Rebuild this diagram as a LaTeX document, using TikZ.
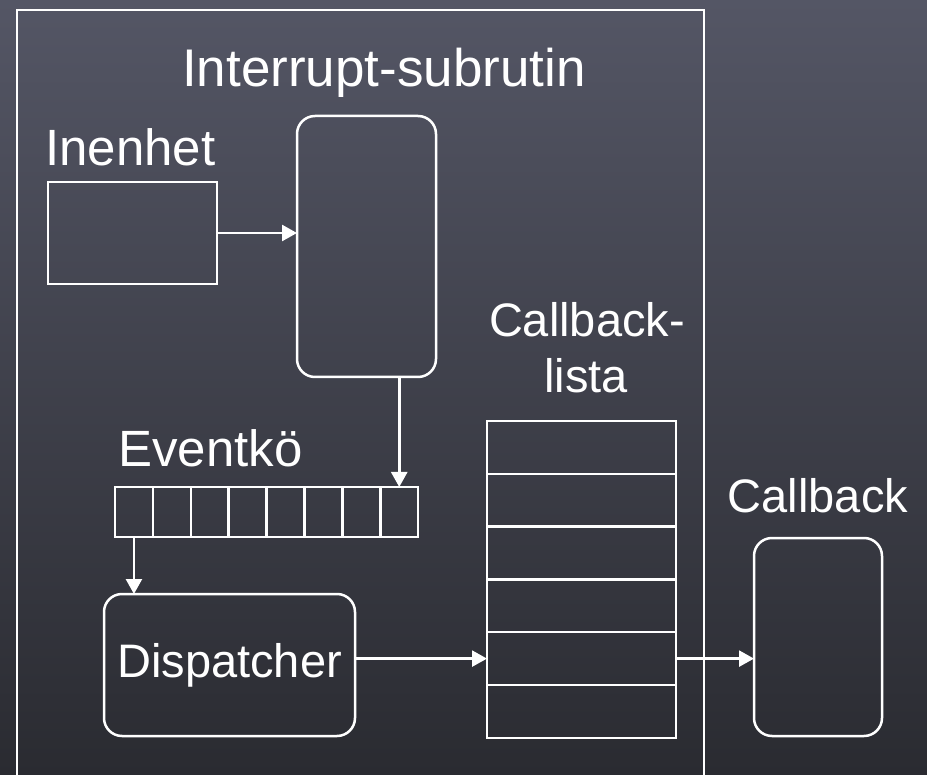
\documentclass[tikz,border=0pt]{standalone}
\usepackage{fontspec}
\setmainfont{Liberation Sans}
\usetikzlibrary{arrows.meta}
\definecolor{bgtop}{RGB}{84,86,101}
\definecolor{bgbot}{RGB}{42,43,49}
\begin{document}
\begin{tikzpicture}[x=1pt,y=-1pt,
  box/.style={draw=white, line width=2.5pt, inner sep=0pt, outer sep=0pt},
  rbox/.style={box, rounded corners=18pt},
  lbl/.style={text=white, inner sep=0pt, font=\fontsize{47}{56}\selectfont},
  arr/.style={white, line width=2.5pt, -{Triangle[length=15pt,width=16pt]}}]
\useasboundingbox (0,0) rectangle (927,775);
\clip (0,0) rectangle (927,775);
\shade[top color=bgtop, bottom color=bgbot] (0,0) rectangle (927,775);
\node[box, line width=2pt, anchor=north west, minimum width=687pt, minimum height=800pt] (sys) at (17,10){};
\node[lbl, font=\fontsize{53}{60}\selectfont, anchor=base] (title) at (384,87){Interrupt-subrutin};
\node[lbl, font=\fontsize{51}{60}\selectfont, anchor=base west] (inlbl) at (45,166){Inenhet};
\node[box, minimum width=169pt, minimum height=102pt] (inbox) at (132.5,233){};
\node[rbox, minimum width=139pt, minimum height=261pt] (isr) at (366.5,246.5){};
\node[lbl, font=\fontsize{51}{60}\selectfont, anchor=base west] (qlbl) at (118,467){Eventkö};
\foreach \i in {1,...,8}
  \node[box, minimum width=37.9pt, minimum height=50pt] (q\i) at ({115+37.9*(\i-0.5)},512){};
\node[rbox, lbl, minimum width=251pt, minimum height=142pt] (disp) at (229.5,665){Dispatcher};
\node[lbl, anchor=base] (cblbl1) at (587,337){Callback-};
\node[lbl, anchor=base] (cblbl2) at (586,393){lista};
\foreach \i in {1,...,6}
  \node[box, minimum width=189pt, minimum height=52.8pt] (c\i) at (581.5,{421+52.8*(\i-0.5)}){};
\node[lbl, anchor=base] (cblbl) at (818,513){Callback};
\node[rbox, minimum width=128pt, minimum height=198pt] (cb) at (818,637){};
\draw[arr](inbox.east) -- (inbox.east -| isr.west);
\draw[arr](isr.south -| q8) -- (q8.north);
\draw[arr](q1.south) -- (q1.south |- disp.north);
\draw[arr](disp.east |- c5) -- (c5.west);
\draw[arr](c5.east) -- (c5.east -| cb.west);
\end{tikzpicture}
\end{document}
